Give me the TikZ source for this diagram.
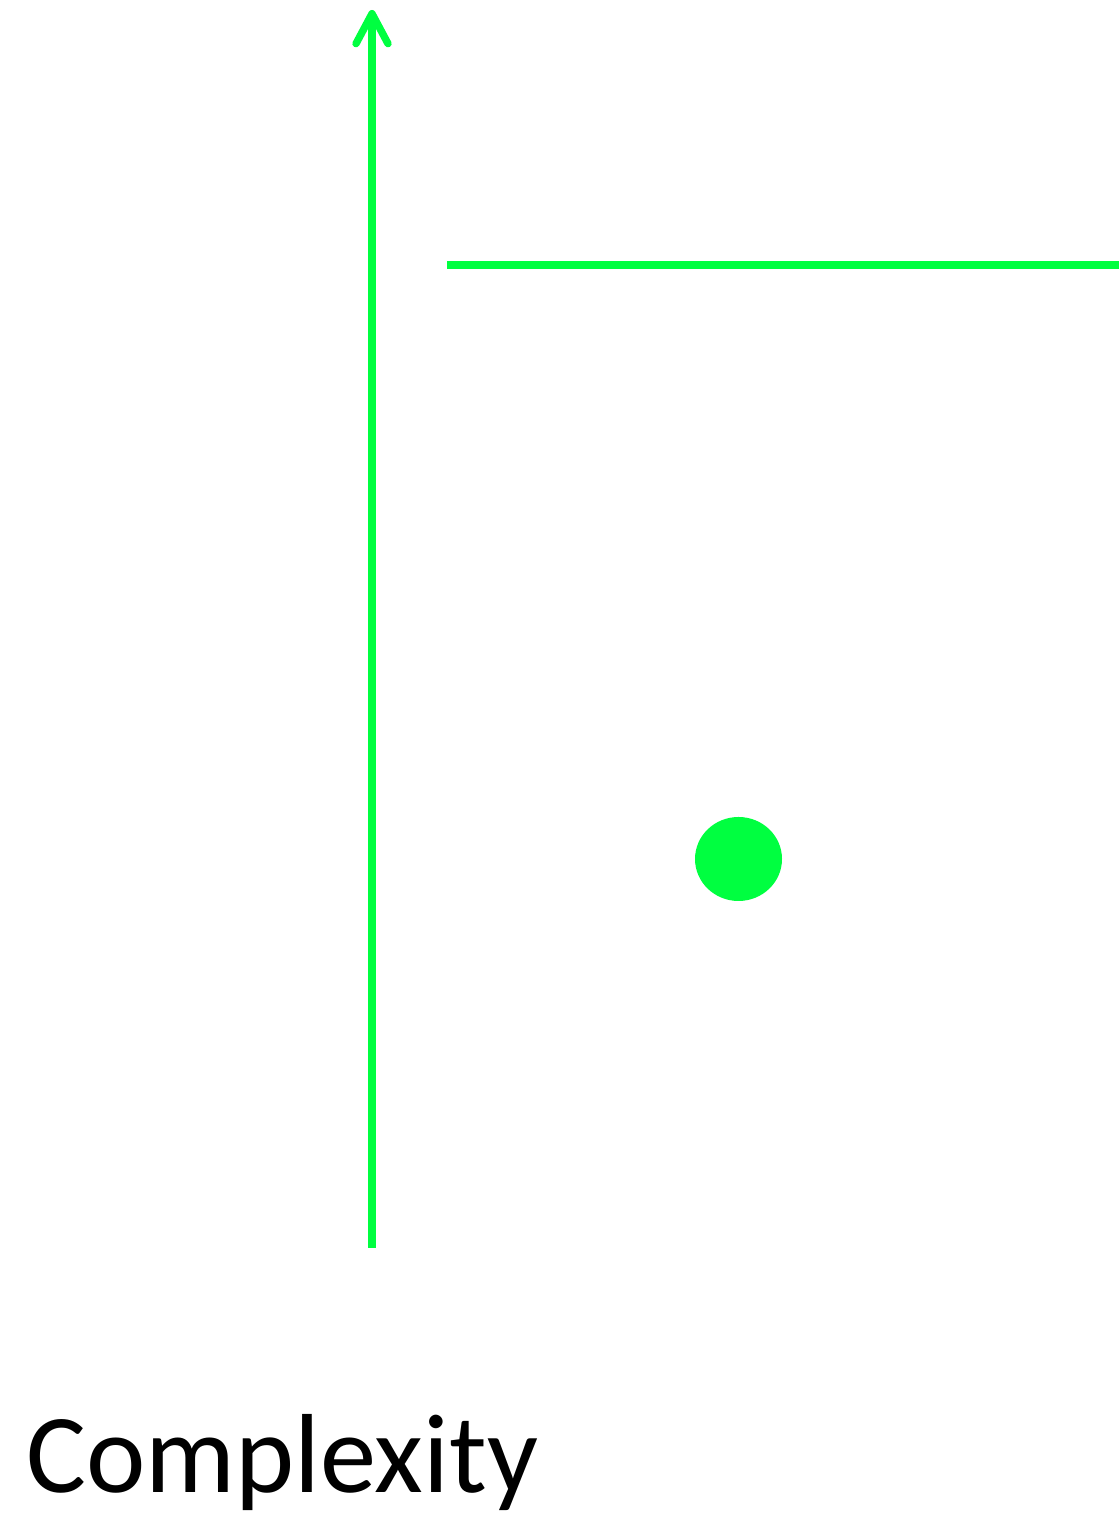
\documentclass[tikz,border=0pt]{standalone}
\usepackage{fontspec}
\setmainfont{Carlito}
\usetikzlibrary{arrows.meta, shapes.geometric}
\definecolor{axgreen}{HTML}{00FF40}

\begin{document}
\begin{tikzpicture}[
      axline/.style={draw=axgreen, line width=2.1pt},
      marker/.style={fill=axgreen, draw=none, ellipse, minimum width=8.7mm, minimum height=8.4mm, inner sep=0pt},
      axlbl/.style={font=\fontsize{32}{38}\selectfont, color=black, inner sep=0pt, anchor=base west}]
      \useasboundingbox (0,0) rectangle (11.19,15.16);

      \coordinate (axfoot) at (3.72,2.68);
      \coordinate (axtop) at (3.72,15.06);
      \coordinate (lvlL) at (4.47,12.51);
      \coordinate (lvlR) at (11.19,12.51);

      \draw[axline, -{Straight Barb[length=3mm, width=3.2mm, round]}] (axfoot)--(axtop);
      \draw[axline] (lvlL)--(lvlR);
      \node[marker] (pt) at (7.385,6.57) {};
      \node[axlbl] (cplx) at (0.26,0.23) {Complexity};
    \end{tikzpicture}
\end{document}
